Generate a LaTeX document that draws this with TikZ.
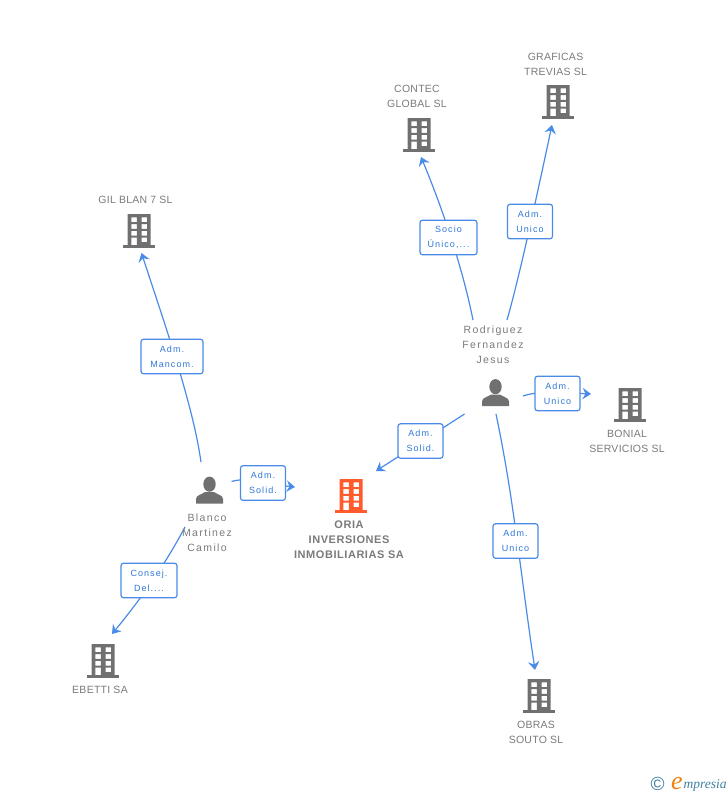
\documentclass[tikz,border=0pt]{standalone}
\usepackage{fontspec}
\setmainfont{Liberation Sans}
\newfontfamily\txtfont[LetterSpace=2.5]{Liberation Sans}
\newfontfamily\namefont[LetterSpace=13]{Liberation Sans}
\newfontfamily\lblfont[LetterSpace=12]{Liberation Sans}
\newfontfamily\boldfont[LetterSpace=5]{Liberation Sans Bold}
\newfontfamily\logofont{Liberation Serif Italic}
\usetikzlibrary{arrows.meta,backgrounds}
\definecolor{icongray}{HTML}{707070}
\definecolor{textgray}{HTML}{7A7A7A}
\definecolor{linkblue}{HTML}{4A8BE8}
\definecolor{lbltext}{HTML}{2F78D8}
\definecolor{orangeicon}{HTML}{FF5B2D}
\definecolor{logoblue}{HTML}{3F7F9F}
\definecolor{logoorange}{HTML}{F08010}
\tikzset{
  x=1pt,y=-1pt,
  iconbox/.style={inner sep=0pt,minimum width=32pt,minimum height=34pt},
  personbox/.style={inner sep=0pt,minimum width=27pt,minimum height=27pt},
  caption/.style={inner sep=0pt,align=center,text=textgray,font=\fontsize{10.5pt}{15pt}\selectfont\txtfont},
  namecaption/.style={inner sep=0pt,align=center,text=textgray,font=\fontsize{10.5pt}{15pt}\selectfont\namefont},
  bigcaption/.style={inner sep=0pt,align=center,text=textgray,font=\fontsize{11pt}{15pt}\selectfont\boldfont},
  rolebox/.style={draw=linkblue,line width=1.2pt,fill=white,rounded corners=2.5pt,inner sep=0pt,align=center,
    minimum height=34.5pt,text=lbltext,font=\fontsize{9pt}{15pt}\selectfont\lblfont},
  conn/.style={draw=linkblue,line width=1.2pt},
  connarrow/.style={conn,-{Stealth[length=8.5pt,width=11.5pt,inset=3pt]}}
}
\newcommand{\building}[4][icongray]{%
  \node[iconbox] (#2) at (#3,#4) {};
  \begin{scope}[shift={(#3,#4+17)}]
    \fill[#1] (-16,-2.7) rectangle (16,0);
    \fill[#1,even odd rule] (-11.5,-34) rectangle (11.5,-2)
      (-7.6,-30.6) rectangle (-2.2,-25.9) (2.6,-30.6) rectangle (8,-25.9)
      (-7.6,-23.9) rectangle (-2.2,-19.2) (2.6,-23.9) rectangle (8,-19.2)
      (-7.6,-17.2) rectangle (-2.2,-12.5) (2.6,-17.2) rectangle (8,-12.5)
      (-7.6,-10.5) rectangle (-2.2,-2) (2.6,-10.5) rectangle (8,-5.8);
  \end{scope}}
\newcommand{\person}[3]{%
  \node[personbox] (#1) at (#2,#3) {};
  \begin{scope}[shift={(#2,#3+13.5)}]
    \fill[icongray] (0,-19.3) ellipse (6.2 and 7.6);
    \fill[icongray] (-13.5,0) -- (-13.5,-4.5) .. controls (-13.5,-8.5) and (-7.5,-9) .. (-4.5,-11.5)
      -- (4.5,-11.5) .. controls (7.5,-9) and (13.5,-8.5) .. (13.5,-4.5) -- (13.5,0) -- cycle;
  \end{scope}}
\begin{document}
\begin{tikzpicture}
\useasboundingbox (0,0) rectangle (728,795);
% icons
\building{gil}{139}{231}
\building{contec}{419}{135}
\building{graficas}{558}{102}
\building{bonial}{630}{405}
\building[orangeicon]{oria}{351}{496}
\building{ebetti}{103}{661}
\building{obras}{539}{696}
\person{rodp}{495.5}{392.5}
\person{blap}{209.5}{490}
% captions
\node[caption] (gilt) at (135.5,200) {GIL BLAN 7 SL};
\node[caption] (contect) at (417,96.5) {CONTEC\\GLOBAL SL};
\node[caption] (graficast) at (555.5,64.5) {GRAFICAS\\TREVIAS SL};
\node[caption] (bonialt) at (627,441.5) {BONIAL\\SERVICIOS SL};
\node[caption] (ebettit) at (100,690) {EBETTI SA};
\node[caption] (obrast) at (536,732.5) {OBRAS\\SOUTO SL};
\node[namecaption] (rodt) at (493,345) {Rodriguez\\Fernandez\\Jesus};
\node[namecaption] (blat) at (207,533) {Blanco\\Martinez\\Camilo};
\node[bigcaption] (oriat) at (349,540) {ORIA\\INVERSIONES\\INMOBILIARIAS SA};
% role labels
\node[rolebox,minimum width=62pt] (l1) at (172,356.5) {Adm.\\Mancom.};
\node[rolebox,minimum width=57pt] (l2) at (448.5,237.5) {Socio\\Único,...};
\node[rolebox,minimum width=45pt] (l3) at (530,221.5) {Adm.\\Unico};
\node[rolebox,minimum width=45pt] (l4) at (263,483) {Adm.\\Solid.};
\node[rolebox,minimum width=45pt] (l5) at (420.5,441) {Adm.\\Solid.};
\node[rolebox,minimum width=45pt] (l6) at (557.5,393.5) {Adm.\\Unico};
\node[rolebox,minimum width=45pt] (l7) at (515.5,541) {Adm.\\Unico};
\node[rolebox,minimum width=56pt] (l8) at (149,580.5) {Consej.\\Del....};
% connectors
\begin{pgfonlayer}{background}
\draw[connarrow] ([shift={(-20,-25)}]rodt.center) .. controls (462,265) and (441,205) .. ([shift={(2,22)}]contec.center);
\draw[connarrow] ([shift={(14,-25)}]rodt.center) .. controls (520,275) and (538,190) .. ([shift={(-6,23)}]graficas.center);
\draw[connarrow] ([shift={(-8.5,-28)}]blap.center) .. controls (193,405) and (165,325) .. ([shift={(2.5,22)}]gil.center);
\draw[connarrow] ([shift={(22,-8.5)}]blap.center) .. controls (250,476) and (275,485) .. ([shift={(-56,-9)}]oria.center);
\draw[connarrow] ([shift={(27.5,3.5)}]rodp.center) .. controls (540,390) and (570,393) .. ([shift={(-39,-11)}]bonial.center);
\draw[connarrow] ([shift={(0.5,21.5)}]rodp.center) .. controls (514,500) and (520,570) .. ([shift={(-4,-26)}]obras.center);
\draw[connarrow] ([shift={(-31,21.5)}]rodp.center) -- ([shift={(25,-25)}]oria.center);
\draw[connarrow] ([shift={(-22,-6)}]blat.center) .. controls (165,565) and (140,600) .. ([shift={(9,-27)}]ebetti.center);
\end{pgfonlayer}
% logo
\node[inner sep=0pt,text=logoblue,font=\fontsize{19pt}{19pt}\selectfont] (logoc) at (657.5,784) {©};
\node[inner sep=0pt,text=logoorange,font=\fontsize{26pt}{26pt}\selectfont\logofont] (logoe) at (677,783) {e};
\node[inner sep=0pt,anchor=base west,text=logoblue,font=\fontsize{13.5pt}{13.5pt}\selectfont\logofont] (logot) at (683.5,788) {mpresia};
\end{tikzpicture}
\end{document}
